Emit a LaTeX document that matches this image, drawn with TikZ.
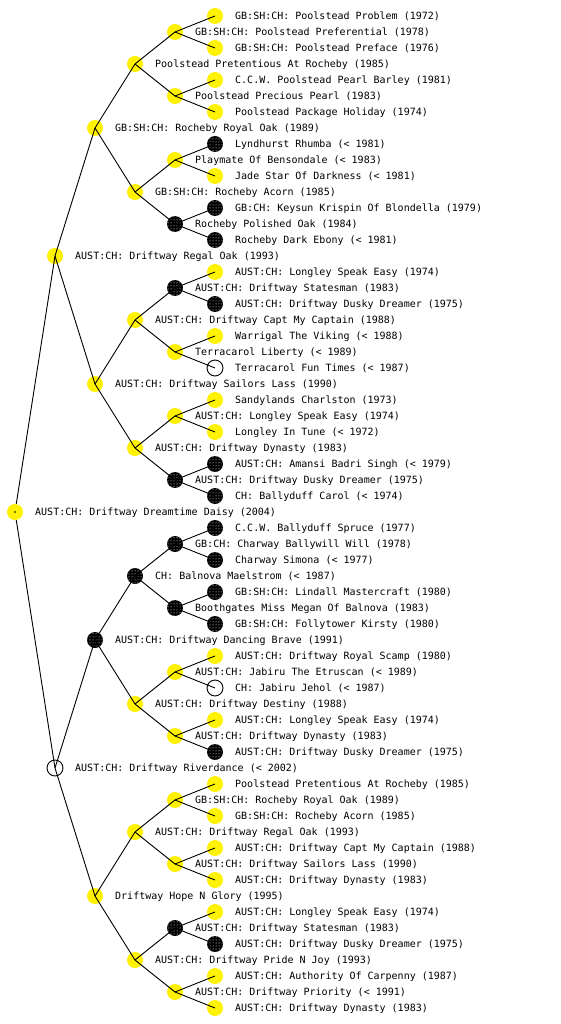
\documentclass[tikz,border=0pt]{standalone}
\usepackage{fontspec}
\setmonofont{DejaVu Sans Mono}
\usetikzlibrary{patterns}
\tikzset{
  yel/.style={circle, fill=yellow, minimum size=16pt, inner sep=0pt},
  blk/.style={circle, fill=black, minimum size=16pt, inner sep=0pt, postaction={pattern=dots, pattern color=white}},
  opn/.style={circle, draw=black, line width=0.9pt, fill=white, minimum size=16pt, inner sep=0pt},
  lbl/.style={anchor=base west, inner sep=0pt, font=\ttfamily\fontsize{10pt}{12pt}\selectfont},
  edge/.style={draw=black, line width=0.9pt}
}
\newcommand{\dognode}[5]{%
  \node[#4] (#1) at (#2,#3) {};
  \node[lbl] (#1t) at ([xshift=20pt,yshift=-3.7pt]#1.center) {#5};
}
\begin{document}
\begin{tikzpicture}[x=1pt,y=-1pt]
\fill[white] (0,0) rectangle (560,1024);
\useasboundingbox (0,0) rectangle (560,1024);
% root
\dognode{root}{15}{512}{yel}{AUST:CH: Driftway Dreamtime Daisy (2004)}
% level 1
\dognode{i0}{55}{256}{yel}{AUST:CH: Driftway Regal Oak (1993)}
\dognode{i1}{55}{768}{opn}{AUST:CH: Driftway Riverdance (< 2002)}
% level 2
\dognode{h0}{95}{128}{yel}{GB:SH:CH: Rocheby Royal Oak (1989)}
\dognode{h1}{95}{384}{yel}{AUST:CH: Driftway Sailors Lass (1990)}
\dognode{h2}{95}{640}{blk}{AUST:CH: Driftway Dancing Brave (1991)}
\dognode{h3}{95}{896}{yel}{Driftway Hope N Glory (1995)}
% level 3
\dognode{g0}{135}{64}{yel}{Poolstead Pretentious At Rocheby (1985)}
\dognode{g1}{135}{192}{yel}{GB:SH:CH: Rocheby Acorn (1985)}
\dognode{g2}{135}{320}{yel}{AUST:CH: Driftway Capt My Captain (1988)}
\dognode{g3}{135}{448}{yel}{AUST:CH: Driftway Dynasty (1983)}
\dognode{g4}{135}{576}{blk}{CH: Balnova Maelstrom (< 1987)}
\dognode{g5}{135}{704}{yel}{AUST:CH: Driftway Destiny (1988)}
\dognode{g6}{135}{832}{yel}{AUST:CH: Driftway Regal Oak (1993)}
\dognode{g7}{135}{960}{yel}{AUST:CH: Driftway Pride N Joy (1993)}
% level 4
\dognode{f0}{175}{32}{yel}{GB:SH:CH: Poolstead Preferential (1978)}
\dognode{f1}{175}{96}{yel}{Poolstead Precious Pearl (1983)}
\dognode{f2}{175}{160}{yel}{Playmate Of Bensondale (< 1983)}
\dognode{f3}{175}{224}{blk}{Rocheby Polished Oak (1984)}
\dognode{f4}{175}{288}{blk}{AUST:CH: Driftway Statesman (1983)}
\dognode{f5}{175}{352}{yel}{Terracarol Liberty (< 1989)}
\dognode{f6}{175}{416}{yel}{AUST:CH: Longley Speak Easy (1974)}
\dognode{f7}{175}{480}{blk}{AUST:CH: Driftway Dusky Dreamer (1975)}
\dognode{f8}{175}{544}{blk}{GB:CH: Charway Ballywill Will (1978)}
\dognode{f9}{175}{608}{blk}{Boothgates Miss Megan Of Balnova (1983)}
\dognode{f10}{175}{672}{yel}{AUST:CH: Jabiru The Etruscan (< 1989)}
\dognode{f11}{175}{736}{yel}{AUST:CH: Driftway Dynasty (1983)}
\dognode{f12}{175}{800}{yel}{GB:SH:CH: Rocheby Royal Oak (1989)}
\dognode{f13}{175}{864}{yel}{AUST:CH: Driftway Sailors Lass (1990)}
\dognode{f14}{175}{928}{blk}{AUST:CH: Driftway Statesman (1983)}
\dognode{f15}{175}{992}{yel}{AUST:CH: Driftway Priority (< 1991)}
% level 5
\dognode{s0}{215}{16}{yel}{GB:SH:CH: Poolstead Problem (1972)}
\dognode{s1}{215}{48}{yel}{GB:SH:CH: Poolstead Preface (1976)}
\dognode{s2}{215}{80}{yel}{C.C.W. Poolstead Pearl Barley (1981)}
\dognode{s3}{215}{112}{yel}{Poolstead Package Holiday (1974)}
\dognode{s4}{215}{144}{blk}{Lyndhurst Rhumba (< 1981)}
\dognode{s5}{215}{176}{yel}{Jade Star Of Darkness (< 1981)}
\dognode{s6}{215}{208}{blk}{GB:CH: Keysun Krispin Of Blondella (1979)}
\dognode{s7}{215}{240}{blk}{Rocheby Dark Ebony (< 1981)}
\dognode{s8}{215}{272}{yel}{AUST:CH: Longley Speak Easy (1974)}
\dognode{s9}{215}{304}{blk}{AUST:CH: Driftway Dusky Dreamer (1975)}
\dognode{s10}{215}{336}{yel}{Warrigal The Viking (< 1988)}
\dognode{s11}{215}{368}{opn}{Terracarol Fun Times (< 1987)}
\dognode{s12}{215}{400}{yel}{Sandylands Charlston (1973)}
\dognode{s13}{215}{432}{yel}{Longley In Tune (< 1972)}
\dognode{s14}{215}{464}{blk}{AUST:CH: Amansi Badri Singh (< 1979)}
\dognode{s15}{215}{496}{blk}{CH: Ballyduff Carol (< 1974)}
\dognode{s16}{215}{528}{blk}{C.C.W. Ballyduff Spruce (1977)}
\dognode{s17}{215}{560}{blk}{Charway Simona (< 1977)}
\dognode{s18}{215}{592}{blk}{GB:SH:CH: Lindall Mastercraft (1980)}
\dognode{s19}{215}{624}{blk}{GB:SH:CH: Follytower Kirsty (1980)}
\dognode{s20}{215}{656}{yel}{AUST:CH: Driftway Royal Scamp (1980)}
\dognode{s21}{215}{688}{opn}{CH: Jabiru Jehol (< 1987)}
\dognode{s22}{215}{720}{yel}{AUST:CH: Longley Speak Easy (1974)}
\dognode{s23}{215}{752}{blk}{AUST:CH: Driftway Dusky Dreamer (1975)}
\dognode{s24}{215}{784}{yel}{Poolstead Pretentious At Rocheby (1985)}
\dognode{s25}{215}{816}{yel}{GB:SH:CH: Rocheby Acorn (1985)}
\dognode{s26}{215}{848}{yel}{AUST:CH: Driftway Capt My Captain (1988)}
\dognode{s27}{215}{880}{yel}{AUST:CH: Driftway Dynasty (1983)}
\dognode{s28}{215}{912}{yel}{AUST:CH: Longley Speak Easy (1974)}
\dognode{s29}{215}{944}{blk}{AUST:CH: Driftway Dusky Dreamer (1975)}
\dognode{s30}{215}{976}{yel}{AUST:CH: Authority Of Carpenny (1987)}
\dognode{s31}{215}{1008}{yel}{AUST:CH: Driftway Dynasty (1983)}
% connectors
\draw[edge] (root) -- (i0.center);
\draw[edge] (root) -- (i1.center);
\fill[black] (root.center) circle (0.8);
\foreach \k in {0,...,3} {\pgfmathtruncatemacro\p{\k/2}\draw[edge] (i\p.center) -- (h\k.center);}
\foreach \k in {0,...,7} {\pgfmathtruncatemacro\p{\k/2}\draw[edge] (h\p.center) -- (g\k.center);}
\foreach \k in {0,...,15} {\pgfmathtruncatemacro\p{\k/2}\draw[edge] (g\p.center) -- (f\k.center);}
\foreach \k in {0,...,31} {\pgfmathtruncatemacro\p{\k/2}\draw[edge] (f\p.center) -- (s\k.center);}
\end{tikzpicture}
\end{document}
